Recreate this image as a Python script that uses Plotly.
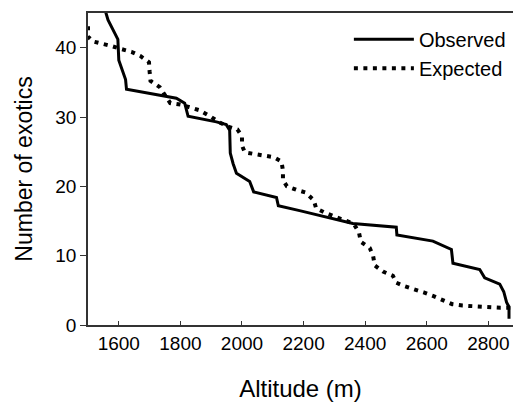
import plotly.graph_objects as go

obs_alt = [1555, 1565, 1581, 1597, 1600, 1614, 1622, 1625, 1700, 1787, 1814, 1825, 1917, 1949,
           1960, 1962, 1971, 1982, 2025, 2038, 2112, 2118, 2187, 2360, 2501, 2503, 2620, 2680,
           2685, 2772, 2788, 2837, 2850, 2859, 2867, 2867]
obs_n = [45.5, 44.0, 42.6, 41.2, 38.2, 36.3, 35.4, 34.0, 33.4, 32.7, 32.0, 30.1, 29.3, 28.9,
         28.1, 24.8, 23.3, 21.9, 20.7, 19.2, 18.4, 17.2, 16.5, 14.65, 14.1, 13.0, 12.1, 10.9,
         8.9, 8.0, 6.8, 5.9, 4.8, 3.3, 2.6, 0.9]

exp_alt = [1500, 1500, 1516, 1547, 1579, 1608, 1641, 1670, 1698, 1700, 1703, 1733, 1749, 1767,
           1800, 1830, 1860, 1893, 1924, 1955, 1985, 2000, 2000, 2009, 2039, 2071, 2103, 2128,
           2133, 2133, 2146, 2176, 2207, 2233, 2241, 2274, 2304, 2333, 2363, 2380, 2386, 2415,
           2426, 2431, 2458, 2490, 2501, 2528, 2558, 2590, 2620, 2650, 2683, 2716, 2747, 2777,
           2808, 2839, 2873]
exp_n = [43.1, 41.6, 40.9, 40.6, 40.2, 39.8, 39.4, 38.8, 37.9, 36.6, 35.2, 34.3, 33.3, 32.0,
         31.8, 31.4, 31.0, 30.2, 29.3, 28.6, 28.2, 27.2, 25.9, 24.9, 24.7, 24.4, 24.2, 23.6,
         22.3, 20.9, 20.0, 19.5, 19.1, 18.0, 16.8, 16.1, 15.6, 15.1, 14.6, 13.3, 12.0, 11.1,
         9.9, 8.6, 7.7, 7.1, 6.1, 5.6, 5.2, 4.7, 4.2, 3.7, 3.0, 2.8, 2.7, 2.7,
         2.6, 2.5, 2.5]

x_ticks = [1600, 1800, 2000, 2200, 2400, 2600, 2800]
y_ticks = [0, 10, 20, 30, 40]

FONT = "Liberation Sans, Arial, sans-serif"

fig = go.Figure()
fig.add_trace(go.Scatter(x=obs_alt, y=obs_n, mode="lines", name="Observed",
                         line=dict(color="black", width=3)))
fig.add_trace(go.Scatter(x=exp_alt, y=exp_n, mode="lines", name="Expected",
                         line=dict(color="black", width=4, dash="4px,5.5px")))

fig.update_layout(
    width=516, height=402,
    margin=dict(l=88, r=3, t=13, b=77),
    paper_bgcolor="white", plot_bgcolor="white",
    font=dict(family=FONT, color="black", size=19),
    showlegend=True,
    legend=dict(x=0.995, y=0.978, xanchor="right", yanchor="top",
                font=dict(size=20, family=FONT), bgcolor="rgba(0,0,0,0)",
                itemwidth=60, tracegroupgap=0),
    xaxis=dict(range=[1500, 2880], tickvals=x_ticks, ticks="inside", ticklen=4,
               tickwidth=1, tickcolor="#333", showline=True, linecolor="#333", linewidth=1.5,
               mirror=True, showgrid=False, zeroline=False,
               title=dict(text="Altitude (m)", font=dict(size=24), standoff=28),
               tickfont=dict(size=19)),
    yaxis=dict(range=[0, 45], tickvals=y_ticks, ticks="outside", ticklen=6,
               tickwidth=1, tickcolor="#333", showline=True, linecolor="#333", linewidth=1.5,
               showgrid=False, zeroline=False,
               title=dict(text="Number of exotics", font=dict(size=23), standoff=16),
               tickfont=dict(size=19)),
)

fig.write_html("out.html", config={"displayModeBar": False},
               post_script="document.body.style.margin='0';document.body.style.overflow='hidden';")
